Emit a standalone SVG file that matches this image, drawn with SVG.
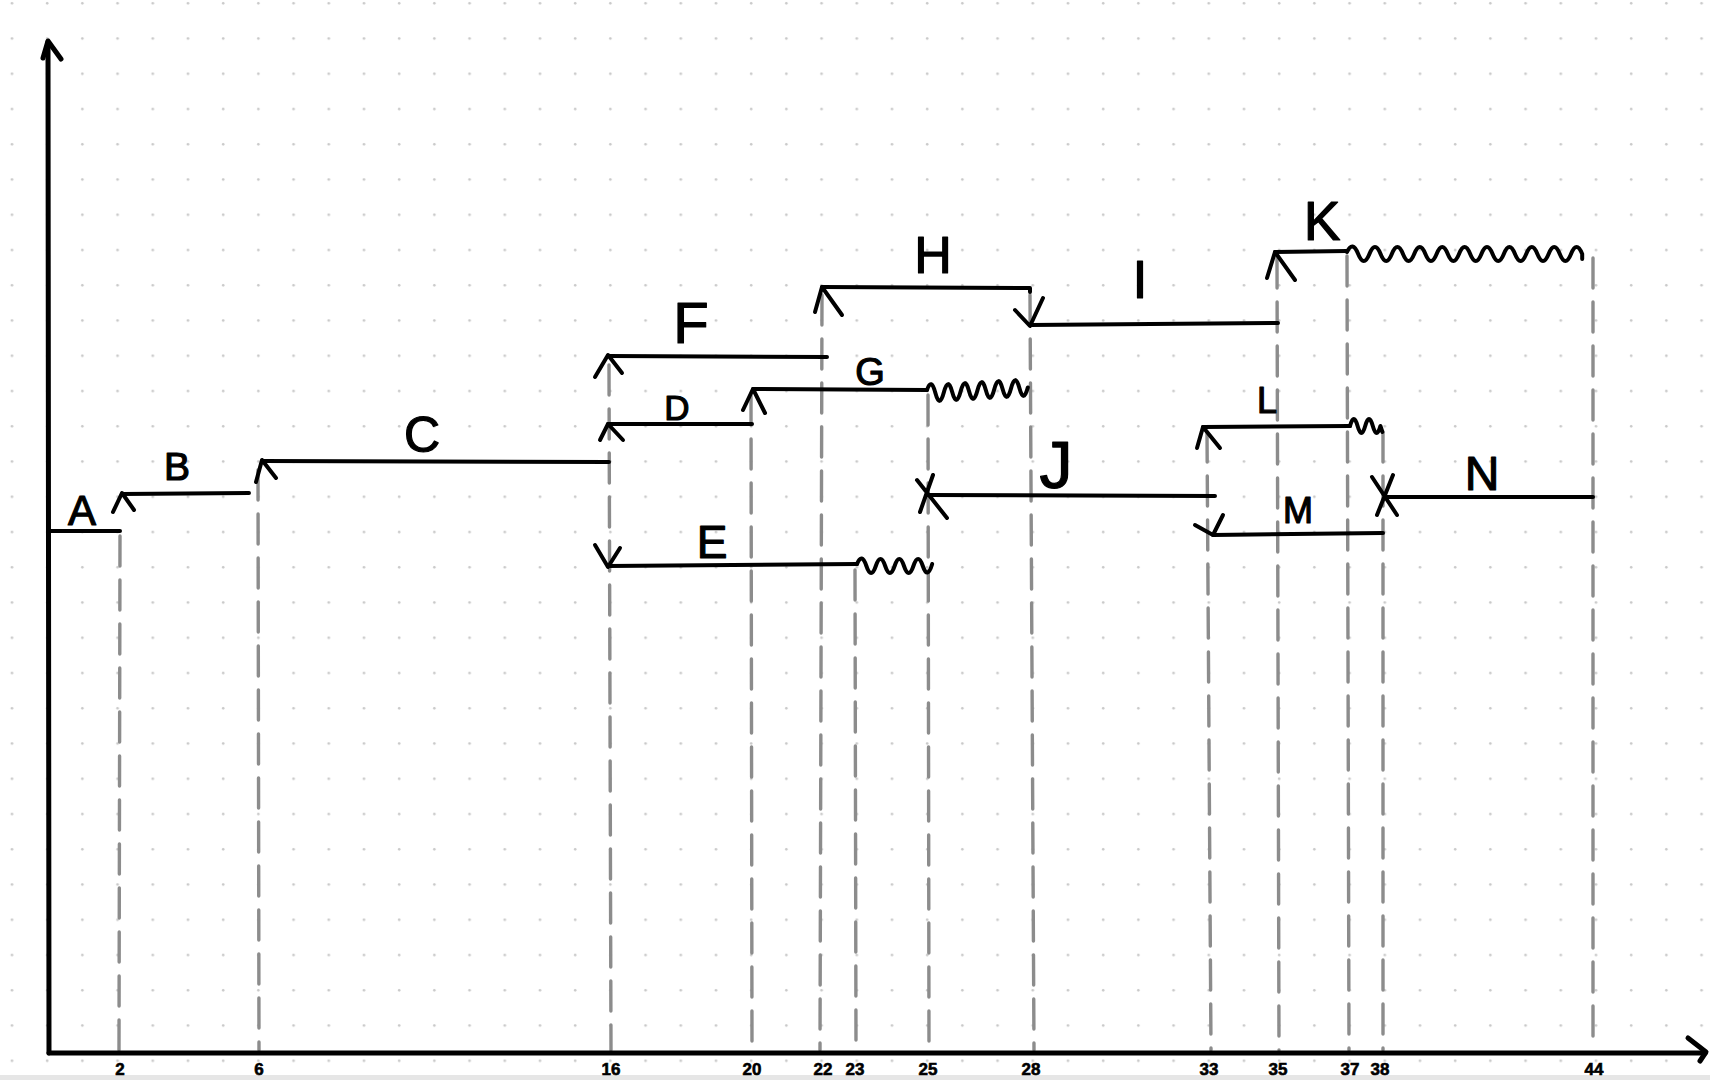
<svg xmlns="http://www.w3.org/2000/svg" width="1710" height="1080" viewBox="0 0 1710 1080">
<style>
.seg{stroke:#000;stroke-width:4;fill:none;stroke-linecap:round;stroke-linejoin:round}
.wave{stroke:#000;stroke-width:4;fill:none;stroke-linecap:round;stroke-linejoin:round}
.axis{stroke:#000;stroke-width:5;fill:none;stroke-linecap:round;stroke-linejoin:round}
.guide{stroke:#8c8c8c;stroke-width:3.4;fill:none;stroke-dasharray:30 14;stroke-linecap:round}
.lbl{font-family:"Liberation Sans",Arial,sans-serif;fill:#000;stroke:#000;stroke-width:1.2;stroke-linejoin:round;text-anchor:middle}
.tick{font-family:"Liberation Sans",Arial,sans-serif;font-weight:bold;font-size:17px;fill:#000;stroke:#000;stroke-width:0.6;text-anchor:middle}
</style>
<defs>
<pattern id="dots" patternUnits="userSpaceOnUse" x="0" y="0" width="35.2" height="35.25">
<circle cx="12" cy="3.3" r="1.3" fill="#c8c8c8"/>
</pattern>
</defs>
<rect width="1710" height="1080" fill="#fff"/>
<rect width="1710" height="1080" fill="url(#dots)"/>
<rect x="0" y="1075" width="1710" height="5" fill="#e6e6e6"/>

<g id="connectors">
<path class="guide" d="M120,536 L119,1050"/>
<path class="guide" d="M258,470 L259,1050"/>
<path class="guide" d="M609,365 L611,1050"/>
<path class="guide" d="M751,395 L752,1050"/>
<path class="guide" d="M822,295 L820,1050"/>
<path class="guide" d="M855,570 L856,1050"/>
<path class="guide" d="M928,395 L929,1050"/>
<path class="guide" d="M1030,295 L1034,1050"/>
<path class="guide" d="M1207,432 L1211,1050"/>
<path class="guide" d="M1277,258 L1279,1050"/>
<path class="guide" d="M1347,256 L1349,1050"/>
<path class="guide" d="M1383,432 L1383,1050"/>
<path class="guide" d="M1593,258 L1593,1050"/>
</g>

<g id="axes">
<path class="axis" d="M49,1053 L48,42"/>
<path class="axis" d="M43,58 L48,41 L61,59"/>
<path class="axis" d="M49,1053 L1705,1053"/>
<path class="axis" d="M1688,1038 L1706,1052 L1700,1061"/>
<text class="tick" x="120" y="1075">2</text>
<text class="tick" x="259" y="1075">6</text>
<text class="tick" x="611" y="1075">16</text>
<text class="tick" x="752" y="1075" font-size="15">20</text>
<text class="tick" x="823" y="1075" font-size="15">22</text>
<text class="tick" x="855" y="1075" font-size="15">23</text>
<text class="tick" x="928" y="1075" font-size="15">25</text>
<text class="tick" x="1031" y="1075" font-size="15">28</text>
<text class="tick" x="1209" y="1075" font-size="15">33</text>
<text class="tick" x="1278" y="1075" font-size="15">35</text>
<text class="tick" x="1350" y="1075" font-size="15">37</text>
<text class="tick" x="1380" y="1075" font-size="15">38</text>
<text class="tick" x="1594" y="1075">44</text>
</g>

<g id="seg-A">
<path class="seg" d="M50,531 L120,531"/>
<text class="lbl" x="82" y="525" font-size="42">A</text>
</g>
<g id="seg-B">
<path class="seg" d="M122,494 L249,493"/>
<path class="seg" d="M113,512 L122,493 L134,510"/>
<text class="lbl" x="177" y="480" font-size="39">B</text>
</g>
<g id="seg-C">
<path class="seg" d="M262,461 L609,462"/>
<path class="seg" d="M256,482 L262,460 L276,478"/>
<text class="lbl" x="422" y="452" font-size="50">C</text>
</g>
<g id="seg-D">
<path class="seg" d="M608,424 L752,424"/>
<path class="seg" d="M600,440 L608,424 L623,440"/>
<text class="lbl" x="677" y="420" font-size="35">D</text>
</g>
<g id="seg-E">
<path class="seg" d="M608,566 L857,564"/>
<path class="seg" d="M595,545 L608,567 L620,548"/>
<path class="wave" d="M857,564 q4.7,-12 9.4,2 t9.4,0 t9.4,0 t9.4,0 t9.4,0 t9.4,0 t9.4,0 t9.4,-2"/>
<text class="lbl" x="712" y="558" font-size="46">E</text>
</g>
<g id="seg-F">
<path class="seg" d="M608,356 L827,357"/>
<path class="seg" d="M595,377 L608,355 L622,373"/>
<text class="lbl" x="691" y="343" font-size="58">F</text>
</g>
<g id="seg-G">
<path class="seg" d="M753,389 L927,390"/>
<path class="seg" d="M743,410 L753,389 L765,413"/>
<path class="wave" d="M927,390 q4.2,-13 8.4,3 t8.4,-0.5 t8.4,-0.5 t8.4,-0.5 t8.4,-0.5 t8.4,-0.5 t8.4,-0.5 t8.4,-0.5 t8.4,-0.5 t8.4,-0.5 t8.4,-0.5 t8.4,-0.5"/>
<text class="lbl" x="870" y="385" font-size="38">G</text>
</g>
<g id="seg-H">
<path class="seg" d="M822,287 L1030,288 L1030,292"/>
<path class="seg" d="M815,312 L822,287 L842,315"/>
<text class="lbl" x="933" y="273" font-size="52">H</text>
</g>
<g id="seg-I">
<path class="seg" d="M1030,325 L1278,323"/>
<path class="seg" d="M1015,310 L1030,326 L1043,298"/>
<text class="lbl" x="1140" y="298" font-size="54" font-family="DejaVu Sans Mono, monospace">I</text>
</g>
<g id="seg-J">
<path class="seg" d="M927,495 L1215,496"/>
<path class="seg" d="M917,480 L947,518 M933,475 L920,512"/>
<text class="lbl" x="1056" y="488" font-size="66">J</text>
</g>
<g id="seg-K">
<path class="seg" d="M1275,252 L1347,251"/>
<path class="seg" d="M1267,278 L1275,252 L1295,280"/>
<path class="wave" d="M1347,252 q5.6,-12 11.2,2 t11.2,0 t11.2,0 t11.2,0 t11.2,0 t11.2,0 t11.2,0 t11.2,0 t11.2,0 t11.2,0 t11.2,0 t11.2,0 t11.2,0 t11.2,0 t11.2,0 t11.2,0 t11.2,0 t11.2,0 t11.2,0 t11.2,0 t11.2,0 l0,5"/>
<text class="lbl" x="1322" y="240" font-size="55">K</text>
</g>
<g id="seg-L">
<path class="seg" d="M1203,427 L1350,426"/>
<path class="seg" d="M1197,448 L1203,427 L1220,448"/>
<path class="wave" d="M1350,426 q3.8,-14 7.6,0 t7.6,0 t7.6,0 t7.6,0 l2,6"/>
<text class="lbl" x="1267" y="413" font-size="36">L</text>
</g>
<g id="seg-M">
<path class="seg" d="M1213,535 L1383,533"/>
<path class="seg" d="M1195,525 L1213,535 L1223,515"/>
<text class="lbl" x="1298" y="523" font-size="36">M</text>
</g>
<g id="seg-N">
<path class="seg" d="M1387,497 L1593,497"/>
<path class="seg" d="M1372,477 L1397,515 M1393,475 L1377,515"/>
<text class="lbl" x="1482" y="490" font-size="48">N</text>
</g>
</svg>
